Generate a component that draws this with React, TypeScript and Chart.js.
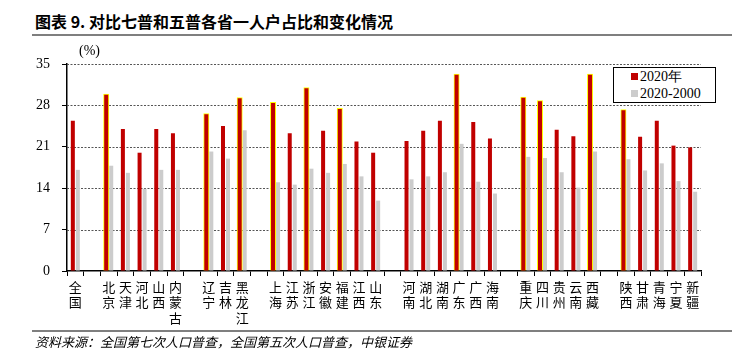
import React, { useEffect, useRef } from "react";
import { Chart, registerables } from "chart.js";

Chart.register(...registerables);

const categories: string[][] = [
  ["全", "国"], [""], ["北", "京"], ["天", "津"], ["河", "北"], ["山", "西"], ["内", "蒙", "古"], [""],
  ["辽", "宁"], ["吉", "林"], ["黑", "龙", "江"], [""],
  ["上", "海"], ["江", "苏"], ["浙", "江"], ["安", "徽"], ["福", "建"], ["江", "西"], ["山", "东"], [""],
  ["河", "南"], ["湖", "北"], ["湖", "南"], ["广", "东"], ["广", "西"], ["海", "南"], [""],
  ["重", "庆"], ["四", "川"], ["贵", "州"], ["云", "南"], ["西", "藏"], [""],
  ["陕", "西"], ["甘", "肃"], ["青", "海"], ["宁", "夏"], ["新", "疆"],
];

const values2020: (number | null)[] = [
  25.4, null, 29.8, 24.0, 20.0, 24.0, 23.3, null,
  26.5, 24.5, 29.2, null,
  28.4, 23.3, 30.9, 23.7, 27.4, 21.9, 20.0, null,
  22.0, 23.7, 25.4, 33.2, 25.2, 22.4, null,
  29.3, 28.7, 23.9, 22.8, 33.2, null,
  27.2, 22.7, 25.4, 21.2, 20.9,
];

const values2000: (number | null)[] = [
  17.1, null, 17.8, 16.6, 13.9, 17.1, 17.1, null,
  20.2, 19.0, 23.8, null,
  15.0, 14.6, 17.3, 16.6, 18.1, 16.0, 11.9, null,
  15.5, 16.0, 16.7, 21.5, 15.1, 13.1, null,
  19.3, 19.1, 16.7, 14.1, 20.2, null,
  18.9, 17.0, 18.2, 15.2, 13.4,
];

const highlighted: string[] = ["北京", "辽宁", "黑龙江", "上海", "浙江", "福建", "广东", "重庆", "四川", "西藏", "陕西"];

const yTicks: number[] = [0, 7, 14, 21, 28, 35];

const seriesNames: string[] = ["2020年", "2020-2000"];
const RED = "#c00000";
const GRAY = "#cccccc";

const serif = "'Liberation Serif', 'Times New Roman', serif";
const cjk = "'Noto Sans CJK SC', sans-serif";

export default function App() {
  const ref = useRef<HTMLCanvasElement>(null);

  useEffect(() => {
    if (!ref.current) return;
    const isHi = categories.map((c) => highlighted.includes(c.join("")));
    const chart = new Chart(ref.current, {
      type: "bar",
      data: {
        labels: categories,
        datasets: [
          {
            label: seriesNames[0],
            data: values2020,
            backgroundColor: RED,
            borderColor: isHi.map((h) => (h ? "#ffff00" : RED)),
            borderWidth: isHi.map((h) => (h ? 1 : 0)),
            inflateAmount: isHi.map((h) => (h ? 1 : 0)) as any,
            borderSkipped: "start",
            categoryPercentage: 0.6,
            barPercentage: 0.8,
          } as any,
          {
            label: seriesNames[1],
            data: values2000,
            backgroundColor: GRAY,
            borderWidth: 0,
            inflateAmount: 0,
            categoryPercentage: 0.6,
            barPercentage: 0.8,
          } as any,
        ],
      },
      options: {
        animation: false,
        responsive: false,
        maintainAspectRatio: false,
        layout: { padding: { left: 0, top: 64, right: 35, bottom: 30 } },
        plugins: {
          legend: { display: false },
          tooltip: { enabled: false },
          title: { display: false },
        },
        scales: {
          x: {
            grid: {
              offset: true,
              drawOnChartArea: false,
              drawTicks: true,
              tickLength: 5,
              color: "#000",
              lineWidth: 1,
            },
            border: { color: "#000", width: 1.5 },
            ticks: {
              autoSkip: false,
              maxRotation: 0,
              minRotation: 0,
              padding: 3,
              color: "#000",
              font: { family: cjk, size: 13, lineHeight: 1.2 },
            },
            afterFit: (axis: any) => {
              axis.height = 60;
            },
          },
          y: {
            min: 0,
            max: 35,
            afterBuildTicks: (axis: any) => {
              axis.ticks = yTicks.map((v) => ({ value: v }));
            },
            grid: {
              drawTicks: true,
              tickLength: 5,
              color: "rgba(0,0,0,0)",
              tickColor: "#000",
              lineWidth: 1,
            },
            border: { color: "#000", width: 1.5 },
            ticks: {
              padding: 12,
              color: "#000",
              font: { family: serif, size: 14 },
            },
            afterFit: (axis: any) => {
              axis.width = 67;
            },
          },
        },
      },
      plugins: [
        {
          id: "dotgrid",
          beforeDatasetsDraw(c: any) {
            const { ctx, chartArea, scales } = c;
            ctx.save();
            ctx.strokeStyle = "#555";
            ctx.lineWidth = 1;
            ctx.setLineDash([2, 1.5]);
            yTicks.forEach((v) => {
              if (v === 0) return;
              const y = Math.round(scales.y.getPixelForValue(v)) + 0.5;
              ctx.beginPath();
              ctx.moveTo(chartArea.left, y);
              ctx.lineTo(chartArea.right, y);
              ctx.stroke();
            });
            ctx.restore();
          },
        },
      ],
    });
    return () => chart.destroy();
  }, []);

  return (
    <div style={{ position: "absolute", left: 0, top: 0, width: 736, height: 361, background: "#fff", overflow: "hidden" }}>
      <div
        style={{
          position: "absolute",
          left: 35,
          top: 11,
          fontFamily: cjk,
          fontWeight: 700,
          fontSize: 16,
          lineHeight: "20px",
          color: "#000",
          whiteSpace: "nowrap",
        }}
      >
        图表 9. 对比七普和五普各省一人户占比和变化情况
      </div>
      <div style={{ position: "absolute", left: 32, top: 34, width: 700, height: 2, background: "#7f7f7f" }} />
      <canvas ref={ref} width={736} height={361} style={{ position: "absolute", left: 0, top: 0 }} />
      <div
        style={{
          position: "absolute",
          left: 79,
          top: 43,
          fontFamily: serif,
          fontSize: 14,
          lineHeight: "16px",
          color: "#000",
        }}
      >
        (%)
      </div>
      <div
        style={{
          position: "absolute",
          left: 613,
          top: 67,
          width: 101,
          height: 34,
          border: "1.5px solid #000",
          background: "#fff",
          fontFamily: serif,
          fontSize: 14,
          color: "#000",
        }}
      >
        {seriesNames.map((n, i) => (
          <div key={n} style={{ position: "absolute", left: 17, top: 1 + i * 17, height: 16, lineHeight: "16px", whiteSpace: "nowrap" }}>
            <span style={{ display: "inline-block", width: 7, height: 7, background: i === 0 ? RED : GRAY, marginRight: 2, verticalAlign: "1px" }} />
            {n}
          </div>
        ))}
      </div>
      <div style={{ position: "absolute", left: 32, top: 330, width: 700, height: 2, background: "#7f7f7f" }} />
      <div
        style={{
          position: "absolute",
          left: 35,
          top: 334,
          fontFamily: cjk,
          fontStyle: "italic",
          fontSize: 13,
          lineHeight: "16px",
          color: "#000",
          whiteSpace: "nowrap",
        }}
      >
        资料来源：全国第七次人口普查，全国第五次人口普查，中银证券
      </div>
    </div>
  );
}
